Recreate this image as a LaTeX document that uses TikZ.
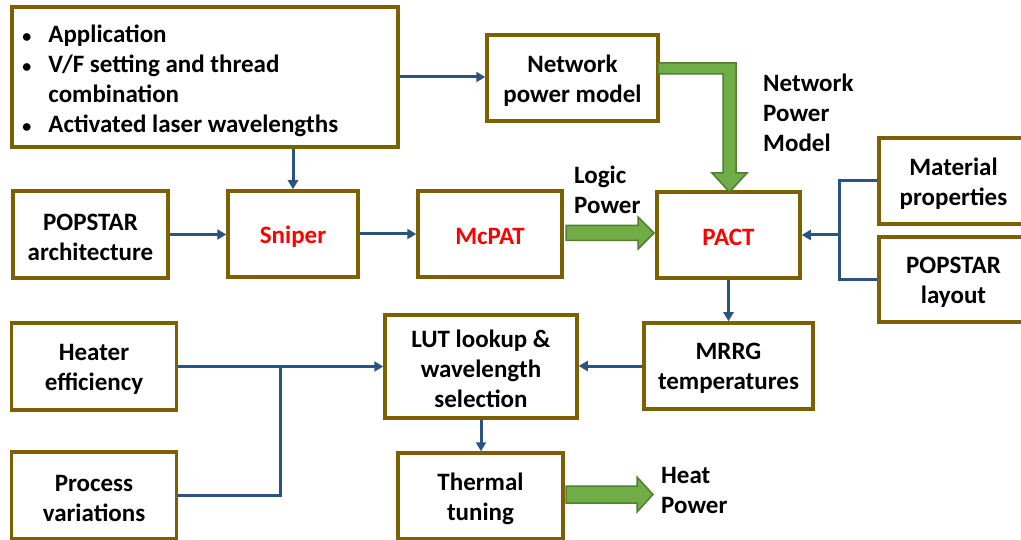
\documentclass[tikz,border=0pt]{standalone}
\usepackage{fontspec}
\setmainfont{Carlito}
\usetikzlibrary{arrows.meta,calc}
\definecolor{boxbrown}{RGB}{127,96,0}
\definecolor{linkblue}{RGB}{41,84,130}
\definecolor{fatgreen}{RGB}{112,173,71}
\definecolor{fatgreenedge}{RGB}{80,126,50}
\definecolor{redtxt}{RGB}{255,0,0}
\begin{document}
\begin{tikzpicture}[x=1pt,y=-1pt,
  blk/.style={draw=boxbrown,line width=3.5pt,fill=white,inner sep=0pt},
  boxtext/.style={align=center,inner sep=0pt,yshift=-2.5pt,
    font=\bfseries\fontsize{25}{30}\selectfont},
  redtext/.style={boxtext,text=redtxt},
  lbl/.style={inner sep=0pt,align=left,anchor=west,font=\bfseries\fontsize{25}{30}\selectfont},
  link/.style={draw=linkblue,line width=3pt},
  linkarrow/.style={link,-{Triangle[length=9pt,width=10pt]}},
  fat/.style={fill=fatgreen,draw=fatgreenedge,line width=1.5pt,line join=miter}]
\useasboundingbox (0,0) rectangle (1021,540);
\fill[white] (0,0) rectangle (1021,540);

% boxes
\node[blk,minimum width=386pt,minimum height=140pt] (tl) at (205,77) {};
\node[lbl,anchor=west] (tltext) at ([xshift=12pt,yshift=-4.5pt]tl.west) {%
  \renewcommand{\arraystretch}{1}%
  \begin{tabular}{@{}l@{\hspace{17pt}}l@{}}
  {\fontsize{18}{30}\selectfont\textbullet} & Application\\
  {\fontsize{18}{30}\selectfont\textbullet} & V/F setting and thread\\
   & combination\\
  {\fontsize{18}{30}\selectfont\textbullet} & Activated laser wavelengths
  \end{tabular}};
\node[blk,minimum width=171pt,minimum height=86pt,label={[boxtext]center:Network\\power model}] (npm) at (572.5,78) {};
\node[blk,minimum width=155pt,minimum height=87pt,label={[boxtext]center:POPSTAR\\architecture}] (arch) at (90.5,234.5) {};
\node[blk,minimum width=130pt,minimum height=86pt,label={[redtext]center:Sniper}] (sniper) at (293,234) {};
\node[blk,minimum width=144pt,minimum height=86pt,label={[redtext]center:McPAT}] (mcpat) at (490,234) {};
\node[blk,minimum width=143pt,minimum height=86pt,label={[redtext]center:PACT}] (pact) at (728.5,235) {};
\node[blk,minimum width=149pt,minimum height=86pt,label={[boxtext]center:Material\\properties}] (mat) at (953.5,181) {};
\node[blk,minimum width=149pt,minimum height=85pt,label={[boxtext]center:POPSTAR\\layout}] (lay) at (953.5,279.5) {};
\node[blk,minimum width=165pt,minimum height=87pt,label={[boxtext]center:Heater\\efficiency}] (heat) at (94,366.5) {};
\node[blk,minimum width=192pt,minimum height=103pt,label={[boxtext]center:LUT lookup \&\\wavelength\\selection}] (lut) at (481,366.5) {};
\node[blk,minimum width=169pt,minimum height=86pt,label={[boxtext]center:MRRG\\temperatures}] (mrrg) at (728.5,366) {};
\node[blk,minimum width=165pt,minimum height=87pt,label={[boxtext]center:Process\\variations}] (proc) at (94,495.5) {};
\node[blk,minimum width=165pt,minimum height=86pt,label={[boxtext]center:Thermal\\tuning}] (therm) at (480.5,496) {};

% free labels
\node[lbl] (nplbl) at (763,113) {Network\\Power\\Model};
\node[lbl] (logiclbl) at (574,190) {Logic\\Power};
\node[lbl] (heatlbl) at (661,490) {Heat\\Power};

% thin connectors
\draw[linkarrow] (tl.east) -- (tl.east -| npm.west);
\draw[linkarrow] (sniper.north |- tl.south) -- (sniper.north);
\draw[linkarrow] (arch.east) -- (arch.east -| sniper.west);
\draw[linkarrow] (sniper.east) -- (sniper.east -| mcpat.west);
\coordinate (bx) at (839,0);
\draw[link] (mat.west) -- (mat.west -| bx) -- (lay.west -| bx) -- (lay.west);
\draw[linkarrow] (pact.east -| bx) -- (pact.east);
\draw[linkarrow] (pact.south) -- (pact.south |- mrrg.north);
\draw[linkarrow] (mrrg.west) -- (mrrg.west -| lut.east);
\draw[linkarrow] (heat.east) -- (heat.east -| lut.west);
\coordinate (jx) at (280.5,0);
\draw[link] (proc.east) -- (proc.east -| jx) -- (heat.east -| jx);
\draw[linkarrow] (lut.south) -- (lut.south |- therm.north);

% fat arrows
\draw[fat] (658,63) -- (736,63) -- (736,173) -- (747,173) -- (729.5,192) -- (712,173) -- (723,173) -- (723,74) -- (658,74) -- cycle;
\draw[fat] (566,225.5) -- (638,225.5) -- (638,217) -- (654,233) -- (638,249) -- (638,240.5) -- (566,240.5) -- cycle;
\draw[fat] (566,486) -- (637,486) -- (637,477) -- (653,494.5) -- (637,512) -- (637,503) -- (566,503) -- cycle;
\end{tikzpicture}
\end{document}
